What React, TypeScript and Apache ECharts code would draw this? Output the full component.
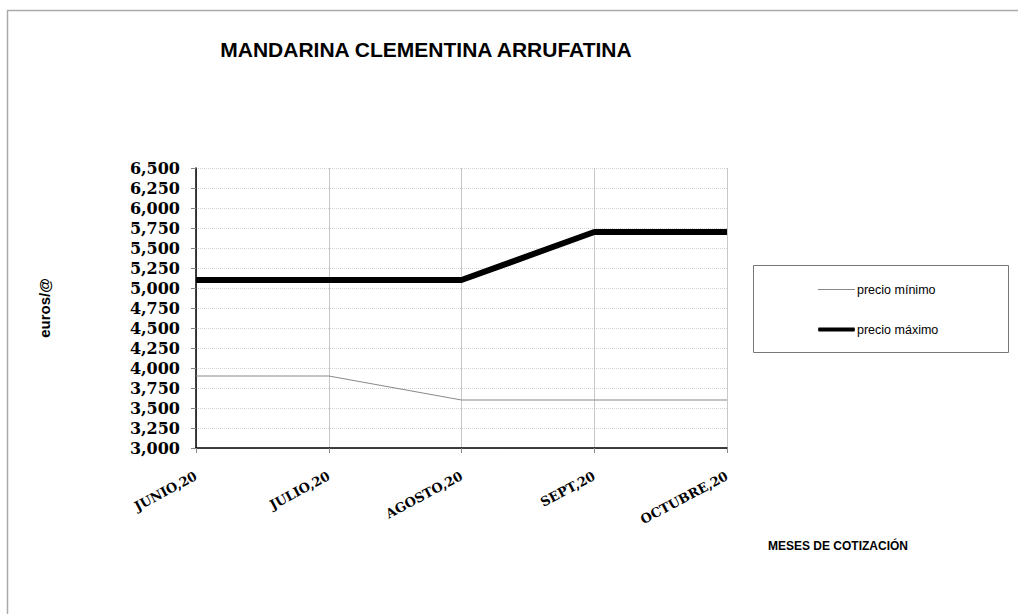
import React, { useEffect, useRef } from "react";
import * as echarts from "echarts";

const categories = ["JUNIO,20", "JULIO,20", "AGOSTO,20", "SEPT,20", "OCTUBRE,20"];
const precioMinimo = [3.9, 3.9, 3.6, 3.6, 3.6];
const precioMaximo = [5.1, 5.1, 5.1, 5.7, 5.7];
const yMin = 3.0;
const yMax = 6.5;
const yStep = 0.25;

const fmt = (v: number) => v.toFixed(3).replace(".", ",");

export default function App() {
  const ref = useRef<HTMLDivElement>(null);
  useEffect(() => {
    document.body.style.margin = "0";
    const chart = echarts.init(ref.current!, null, { renderer: "svg" });
    const serif = "DejaVu Serif";
    const sans = "Liberation Sans, Arial, sans-serif";
    chart.setOption({
      animation: false,
      backgroundColor: "#ffffff",
      title: {
        text: "MANDARINA CLEMENTINA ARRUFATINA",
        left: 421,
        top: 34,
        textAlign: "center",
        textStyle: { fontFamily: sans, fontWeight: "bold", fontSize: 21, color: "#000" },
      },
      grid: { left: 196, right: 291, top: 168, bottom: 166, containLabel: false },
      legend: {
        orient: "vertical",
        left: 813,
        top: 278,
        itemWidth: 37,
        itemHeight: 14,
        itemGap: 27,
        textStyle: { fontFamily: sans, fontSize: 12.5, color: "#000", padding: [0, 0, 0, -3] },
        data: [
          { name: "precio mínimo", itemStyle: { color: "#888888" }, icon: "path://M0,6.5 L37,6.5 L37,7.5 L0,7.5 Z" },
          { name: "precio máximo", itemStyle: { color: "#000000" }, icon: "path://M0,5 L37,5 Q38,7 37,9 L0,9 Q-1,7 0,5 Z" },
        ],
      },
      xAxis: {
        type: "category",
        data: categories,
        boundaryGap: false,
        axisLine: { lineStyle: { color: "#000", width: 1.5 } },
        axisTick: { show: true, length: 5, lineStyle: { color: "#888" } },
        splitLine: { show: true, lineStyle: { color: "#c8c8c8", width: 1 } },
        axisLabel: {
          rotate: 28,
          margin: 27,
          fontFamily: serif,
          fontWeight: "bold",
          fontSize: 13,
          color: "#000",
        },
      },
      yAxis: {
        type: "value",
        min: yMin,
        max: yMax,
        interval: yStep,
        name: "euros/@",
        nameLocation: "middle",
        nameGap: 144,
        nameRotate: 90,
        nameTextStyle: { fontFamily: sans, fontWeight: "bold", fontSize: 15, color: "#000" },
        axisLine: { show: true, lineStyle: { color: "#000", width: 1.5 } },
        axisTick: { show: true, length: 5, lineStyle: { color: "#888" } },
        splitLine: { show: true, lineStyle: { color: "#d4d4d4", type: "dotted", width: 1 } },
        axisLabel: {
          formatter: (v: number) => fmt(v),
          margin: 16,
          fontFamily: serif,
          fontWeight: "bold",
          fontSize: 16,
          color: "#000",
        },
      },
      series: [
        {
          name: "precio mínimo",
          type: "line",
          data: precioMinimo,
          symbol: "none",
          lineStyle: { color: "#888888", width: 1 },
          itemStyle: { color: "#888888" },
        },
        {
          name: "precio máximo",
          type: "line",
          data: precioMaximo,
          symbol: "none",
          lineStyle: { color: "#000000", width: 6 },
          itemStyle: { color: "#000000" },
        },
      ],
      graphic: [
        {
          type: "rect",
          shape: { x: 7.5, y: 10.5, width: 1030, height: 620 },
          style: { fill: "none", stroke: "#aaaaaa", lineWidth: 1.5 },
          silent: true,
          z: -1,
        },
        {
          type: "rect",
          shape: { x: 753.5, y: 265.5, width: 255, height: 87 },
          style: { fill: "none", stroke: "#777777", lineWidth: 1 },
          silent: true,
        },
        {
          type: "text",
          x: 838,
          y: 546,
          style: {
            text: "MESES DE COTIZACIÓN",
            fontFamily: sans,
            fontWeight: "bold",
            fontSize: 12,
            fill: "#000",
            textAlign: "center",
            textVerticalAlign: "middle",
          },
        },
      ],
    });
    return () => chart.dispose();
  }, []);
  return <div ref={ref} style={{ width: 1018, height: 614 }} />;
}
